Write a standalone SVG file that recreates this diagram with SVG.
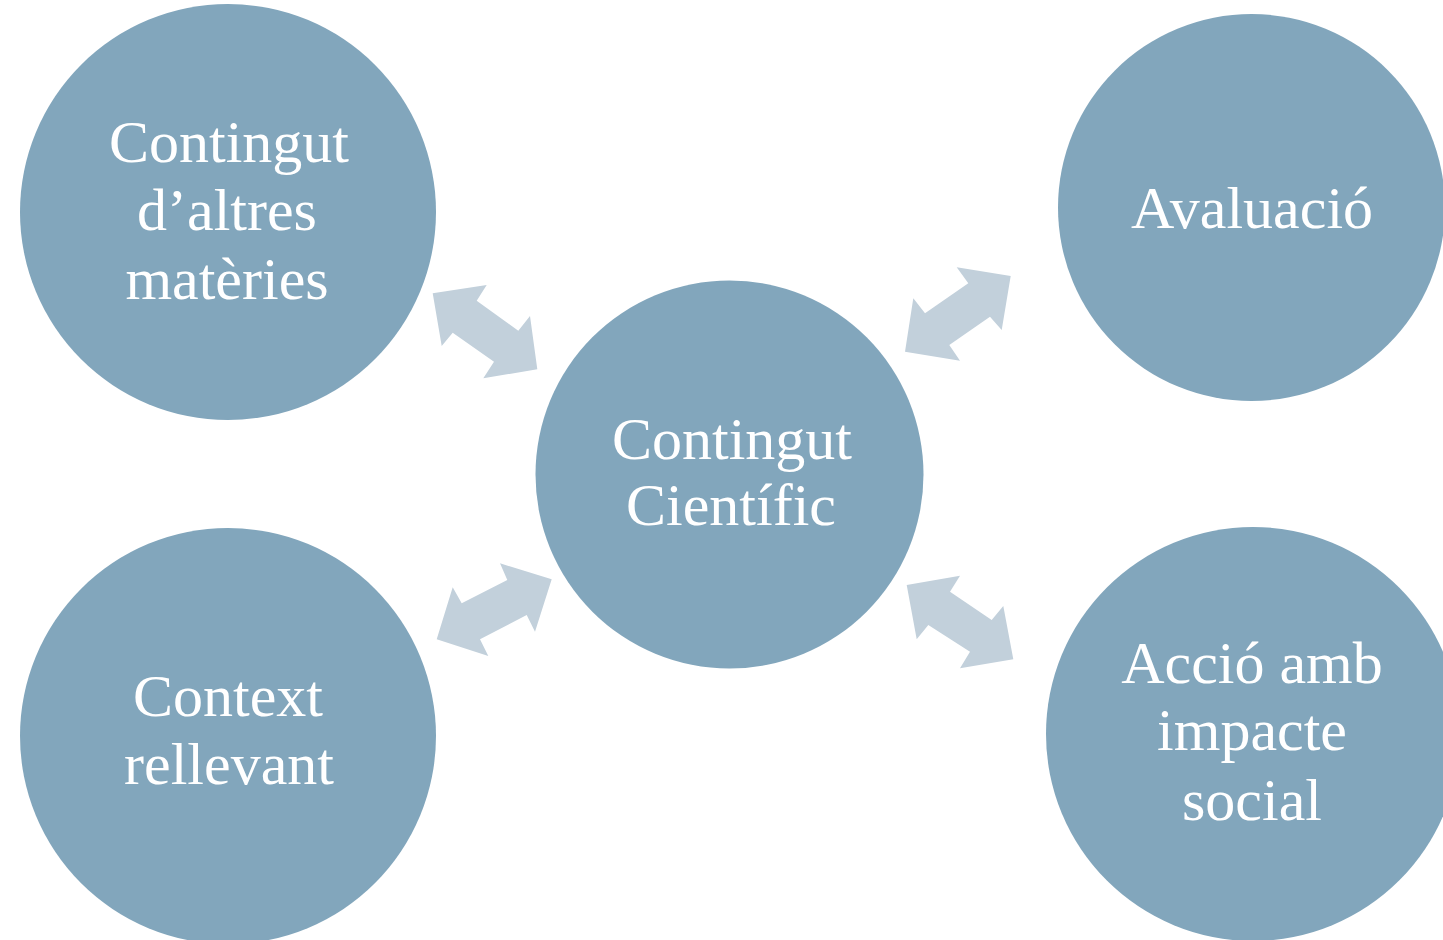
<svg xmlns="http://www.w3.org/2000/svg" width="1443" height="940" viewBox="0 0 1443 940">
<style>
.node{fill:#82A6BC}
.arr{fill:#C2D0DB}
.lbl{font-family:"Liberation Serif",serif;font-size:60px;fill:#FFFFFF;text-anchor:middle}
</style>
<rect width="1443" height="940" fill="#FFFFFF"/>
<g id="connectors">
<polygon class="arr" points="432.7,293.3 486.7,285 476.7,300.7 518.3,330.7 530,316 537.3,369.3 483.3,378.3 494,361.7 452.7,332.7 441.7,346"/>
<polygon class="arr" points="1010.7,276 956.7,267.3 968.3,283.3 925,313.3 913.3,298.3 905,351.7 960,360.7 949.3,345 990,316.7 1001.7,330"/>
<polygon class="arr" points="551.7,579.3 500,563.3 507.3,580 461.7,603.3 452.7,587.3 436.7,639.3 488.3,656 480,639.3 526.7,615 535,631.7"/>
<polygon class="arr" points="906.7,585 960,575.7 950,591.7 991.7,620 1003.3,606 1013.3,659.3 960,668.3 970,651.7 928.3,625 916.7,639.3"/>
</g>
<g id="node-center">
<circle class="node" cx="729.5" cy="474.5" r="194"/>
<text class="lbl" x="732" y="459">Contingut</text>
<text class="lbl" x="731" y="525">Científic</text>
</g>
<g id="node-altres">
<circle class="node" cx="228" cy="212" r="208"/>
<text class="lbl" x="229" y="162">Contingut</text>
<text class="lbl" x="227" y="230">d’altres</text>
<text class="lbl" x="227" y="299">matèries</text>
</g>
<g id="node-avaluacio">
<circle class="node" cx="1251.5" cy="207.5" r="193.5"/>
<text class="lbl" x="1252" y="228">Avaluació</text>
</g>
<g id="node-context">
<circle class="node" cx="228" cy="736" r="208"/>
<text class="lbl" x="228" y="716">Context</text>
<text class="lbl" x="229" y="784">rellevant</text>
</g>
<g id="node-accio">
<circle class="node" cx="1253" cy="734" r="207"/>
<text class="lbl" x="1252" y="683">Acció amb</text>
<text class="lbl" x="1252" y="750">impacte</text>
<text class="lbl" x="1252" y="820">social</text>
</g>
</svg>
